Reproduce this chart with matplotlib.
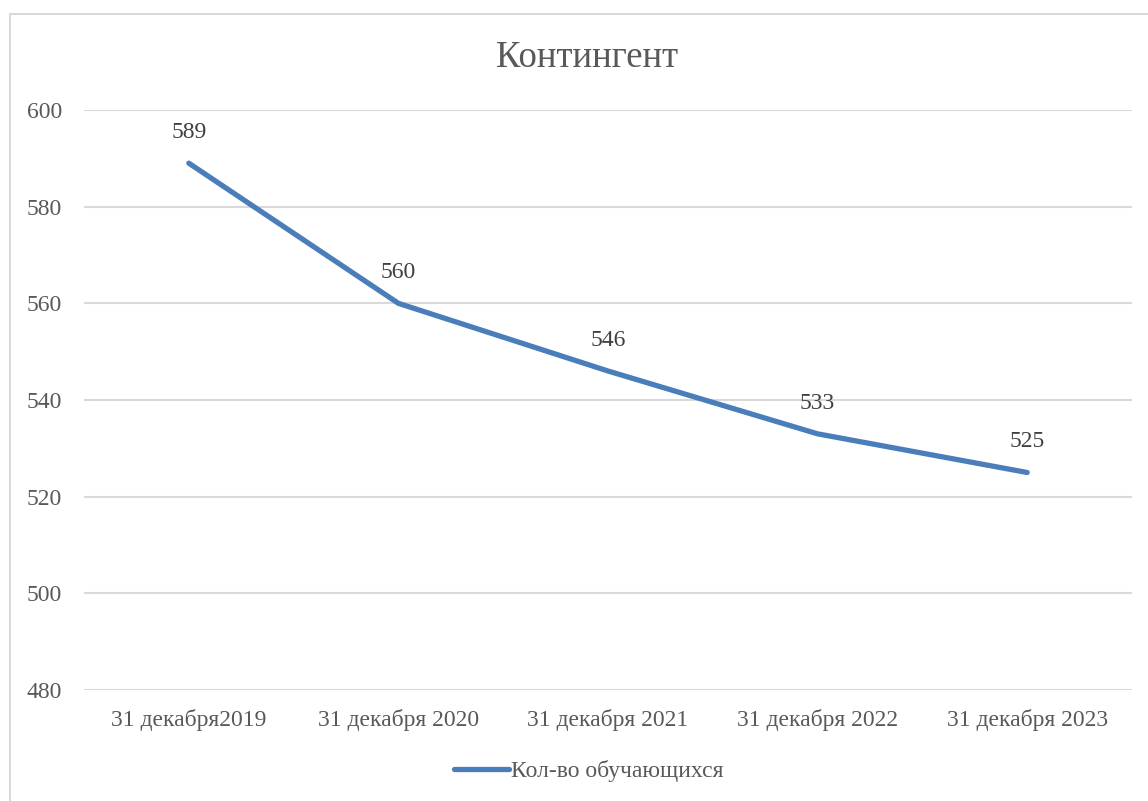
import matplotlib.pyplot as plt
from matplotlib.patches import Rectangle

plt.rcParams['font.family'] = ['Liberation Serif', 'DejaVu Serif']

# Данные
dates = ['31 декабря2019', '31 декабря 2020', '31 декабря 2021',
         '31 декабря 2022', '31 декабря 2023']
students = [589, 560, 546, 533, 525]
yticks = [480, 500, 520, 540, 560, 580, 600]

text_col = '#595959'
line_col = '#4a7ebb'

fig = plt.figure(figsize=(11.48, 8.01), dpi=100)

# рамка области диаграммы (обрезана справа и снизу)
fig.patches.append(Rectangle((10 / 1148, -0.1), 1.2, 1 - 14 / 801 + 0.1,
                             transform=fig.transFigure, fill=False,
                             edgecolor='#d9d9d9', linewidth=1.5))

ax = fig.add_axes([84 / 1148, 1 - 690 / 801, (1132 - 84) / 1148, (690 - 110) / 801])

x = range(len(dates))
ax.plot(x, students, color=line_col, linewidth=3.8, solid_capstyle='round',
        label='Кол-во обучающихся')

for xi, v in zip(x, students):
    ax.annotate(str(v), (xi, v), xytext=(0, 22), textcoords='offset points',
                ha='center', va='center', fontsize=17, color='#404040')

ax.set_xlim(-0.5, len(dates) - 0.5)
ax.set_ylim(480, 600)
ax.set_yticks(yticks)
ax.set_xticks(list(x))
ax.set_xticklabels(dates)
ax.tick_params(axis='both', length=0, labelsize=17, labelcolor=text_col)
ax.tick_params(axis='y', pad=16)
ax.tick_params(axis='x', pad=14)

ax.grid(axis='y', color='#d9d9d9', linewidth=1.5)
ax.set_axisbelow(True)
for s in ax.spines.values():
    s.set_visible(False)

fig.text(0.511, 1 - 58 / 801, 'Контингент', ha='center', va='center',
         fontsize=26.5, color=text_col)

fig.legend(loc='center', bbox_to_anchor=(0.513, 1 - 771 / 801), frameon=False,
           fontsize=17, labelcolor=text_col, handlelength=2.3, handletextpad=0.1)

fig.savefig('out.png', dpi=100)
